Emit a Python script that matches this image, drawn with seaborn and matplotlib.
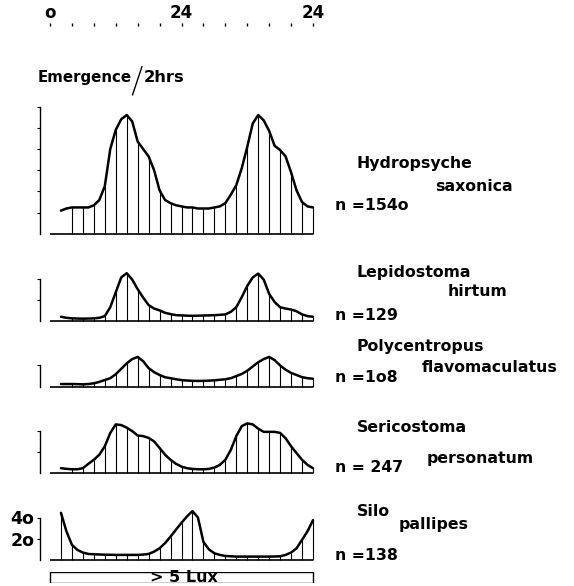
import matplotlib
matplotlib.use("Agg")
import matplotlib.pyplot as plt
from matplotlib.lines import Line2D
import pandas as pd
import seaborn as sns

# hours after start, read every hour from the figure (2 h bars on even hours)
hours = list(range(2, 49))

hydropsyche = [22, 24, 25, 25, 25, 25, 27, 32, 45, 80,
               98, 108, 112, 106, 87, 80, 73, 60, 41, 32,
               29, 27, 26, 25, 25, 24, 24, 24, 25, 26,
               29, 37, 46, 62, 82, 104, 112, 107, 97, 83,
               79, 73, 58, 41, 30, 26, 25]
lepidostoma = [4, 3, 2.5, 2.3, 2.2, 2.3, 2.5, 3, 4.6, 13,
               27, 41, 45, 39, 30, 22, 15, 11.7, 10, 7.7,
               6.5, 5.5, 5.3, 5, 4.9, 5, 5.2, 5.3, 5.5, 5.8,
               6.2, 8.6, 13, 22.5, 33, 41, 44.6, 39, 25.5, 17.8,
               13, 11.7, 10.8, 9.2, 6.2, 4.6, 4]
polycentropus = [2.5, 2.5, 2.5, 2.4, 2.2, 2.5, 3.2, 4.5, 6.3, 8,
                 11.7, 16.8, 22, 26, 28, 24, 17.5, 13.7, 11, 8.9,
                 8, 7, 6.2, 5.8, 5.5, 5.4, 5.5, 5.7, 6, 6.5,
                 7, 8, 10, 12, 15, 19, 23, 26, 28, 25,
                 20, 16, 13, 11, 9, 8, 7.5]
sericostoma = [4.8, 4.2, 3.8, 3.8, 4.8, 8.9, 12.7, 17.5, 25.4, 38,
               46, 45.4, 43, 39.7, 35.6, 35, 33.3, 30, 23.8, 17.5,
               12.7, 8.9, 6.3, 4.8, 4.1, 3.8, 3.8, 4.1, 5.4, 7.9,
               12.7, 22, 35, 44.4, 47, 46, 42, 39, 39, 39,
               38, 33, 25.4, 19, 12.7, 7.9, 4.8]
silo = [44.4, 27, 14.3, 9.5, 7, 5.7, 5.4, 5.2, 5, 4.9,
        4.8, 4.8, 4.8, 4.8, 4.8, 5.1, 5.7, 7.9, 11, 15.9,
        22, 28.6, 35, 41, 46, 40, 17, 10, 6.3, 4.8,
        3.8, 3.5, 3.2, 3.2, 3.2, 3.2, 3.2, 3.2, 3.2, 3.3,
        3.5, 4.8, 7, 11, 19, 27, 37.5]

series = [hydropsyche, lepidostoma, polycentropus, sericostoma, silo]
genus = ["Hydropsyche", "Lepidostoma", "Polycentropus", "Sericostoma", "Silo"]
species = ["saxonica", "hirtum", "flavomaculatus", "personatum", "pallipes"]
n_labels = ["n =154o", "n =129", "n =1o8", "n = 247", "n =138"]
y_ticks = [[20, 40, 60, 80, 100, 120], [20, 40], [20], [20, 40], [20, 40]]
first_bar = [4, 4, 4, 4, 2]

top_ticks = list(range(0, 49, 4))
top_labels = ["o", "", "", "", "", "", "24", "", "", "", "", "", "24"]

sns.set_style("white")
plt.rcParams['font.family'] = ['DejaVu Sans']
plt.rcParams['font.weight'] = 'bold'
for k in ['text.color', 'axes.labelcolor', 'xtick.color', 'ytick.color', 'axes.edgecolor']:
    plt.rcParams[k] = 'black'

W, H = 574, 586
fig = plt.figure(figsize=(W / 100, H / 100), dpi=100)

# layout in pixels
x0_px, px_per_h = 50, 263 / 48
ax_left, ax_right = 40, 315
xlim = ((ax_left - x0_px) / px_per_h, (ax_right - x0_px) / px_per_h)
px_per_unit = 21.25 / 20
baselines = [234, 321, 386.7, 473.3, 560]
ymax = [120, 48, 30, 49, 48]
genus_pos = [(357, 164), (357, 273), (357, 347), (357, 427), (357, 511)]
species_pos = [(435, 186), (448, 292), (422, 367), (427, 458), (399, 524)]
n_pos = [(335, 206), (335, 315), (335, 377), (335, 468), (335, 555)]


def fx(px):
    return px / W


def fy(py):
    return 1 - py / H


for i, vals in enumerate(series):
    b = baselines[i]
    hpx = ymax[i] * px_per_unit
    ax = fig.add_axes([fx(ax_left), fy(b), (ax_right - ax_left) / W, hpx / H])
    df = pd.DataFrame({"hour": hours, "n": vals})
    sns.lineplot(data=df, x="hour", y="n", ax=ax, color="black", lw=1.8,
                 solid_joinstyle="round", solid_capstyle="round")
    bars = df[(df["hour"] % 2 == 0) & (df["hour"] >= first_bar[i])]
    ax.vlines(bars["hour"], 0, bars["n"], color="black", lw=0.8)
    ax.hlines(0, 0, hours[-1], color="black", lw=1.2)
    for ln in ax.lines + ax.collections:
        ln.set_clip_on(False)
    ax.set_xlim(*xlim)
    ax.set_ylim(0, ymax[i])
    for s in ["top", "right", "bottom"]:
        ax.spines[s].set_visible(False)
    ax.spines["left"].set_bounds(0, y_ticks[i][-1])
    ax.spines["left"].set_linewidth(1.0)
    ax.set_xticks([])
    ax.set_yticks(y_ticks[i])
    ax.tick_params(axis="y", direction="out", length=2.5, width=0.8, left=True, pad=1.5,
                   labelsize=12.5)
    if i == 4:
        ax.set_yticklabels(["2o", "4o"], fontweight="bold")
    else:
        ax.set_yticklabels([])
    ax.set_xlabel("")
    ax.set_ylabel("")
    ax.patch.set_alpha(0)

    fig.text(fx(genus_pos[i][0]), fy(genus_pos[i][1]), genus[i], fontsize=11.3,
             fontweight="bold", va="center", ha="left")
    fig.text(fx(species_pos[i][0]), fy(species_pos[i][1]), species[i], fontsize=11.3,
             fontweight="bold", va="center", ha="left")
    fig.text(fx(n_pos[i][0]), fy(n_pos[i][1]), n_labels[i], fontsize=11.3,
             fontweight="bold", va="center", ha="left")

# time scale on top
ax_top = fig.add_axes([fx(ax_left), fy(27), (ax_right - ax_left) / W, 0.001])
ax_top.set_xlim(*xlim)
ax_top.set_yticks([])
ax_top.xaxis.tick_top()
ax_top.set_xticks(top_ticks)
ax_top.set_xticklabels(top_labels, fontsize=12, fontweight="bold")
ax_top.tick_params(axis="x", direction="out", length=2.5, width=1, pad=0.5, top=True, bottom=False)
for s in ax_top.spines.values():
    s.set_visible(False)
ax_top.patch.set_alpha(0)

# y label
fig.text(fx(38), fy(77), "Emergence", fontsize=10.8, fontweight="bold", va="center", ha="left")
fig.text(fx(144), fy(77), "2hrs", fontsize=11.8, fontweight="bold", va="center", ha="left")
fig.add_artist(Line2D([fx(132.5), fx(142)], [fy(95), fy(66.5)], color="black", lw=1.0))

# light bar
ax_lux = fig.add_axes([fx(ax_left), fy(582.5), (ax_right - ax_left) / W, 10.8 / H])
ax_lux.set_xlim(*xlim)
ax_lux.set_ylim(0, 1)
ax_lux.axvspan(0, hours[-1], 0, 1, facecolor="white", edgecolor="black", lw=1.0)
ax_lux.text(hours[-1] / 2 + 0.5, 0.5, "> 5 Lux", ha="center", va="center", fontsize=11.5,
            fontweight="bold")
ax_lux.axis("off")

fig.savefig("out.png", dpi=100)
